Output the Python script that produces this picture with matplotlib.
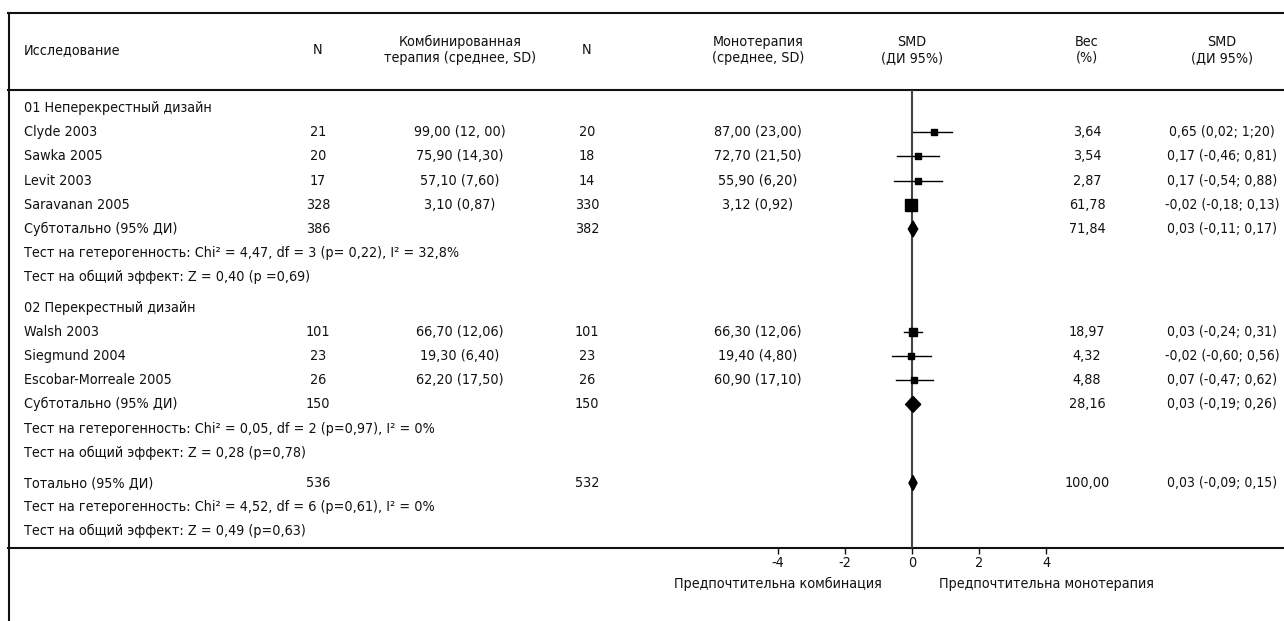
import matplotlib
matplotlib.use("Agg")
import matplotlib.pyplot as plt
from matplotlib import font_manager
from matplotlib.patches import Polygon

# --- data
studies = ['Clyde 2003', 'Sawka 2005', 'Levit 2003', 'Saravanan 2005',
           'Walsh 2003', 'Siegmund 2004', 'Escobar-Morreale 2005']
group = [1, 1, 1, 1, 2, 2, 2]
n_comb = [21, 20, 17, 328, 101, 23, 26]
comb_txt = ['99,00 (12, 00)', '75,90 (14,30)', '57,10 (7,60)', '3,10 (0,87)',
            '66,70 (12,06)', '19,30 (6,40)', '62,20 (17,50)']
n_mono = [20, 18, 14, 330, 101, 23, 26]
mono_txt = ['87,00 (23,00)', '72,70 (21,50)', '55,90 (6,20)', '3,12 (0,92)',
            '66,30 (12,06)', '19,40 (4,80)', '60,90 (17,10)']
smd = [0.65, 0.17, 0.17, -0.02, 0.03, -0.02, 0.07]
ci_lo = [0.02, -0.46, -0.54, -0.18, -0.24, -0.60, -0.47]
ci_hi = [1.20, 0.81, 0.88, 0.13, 0.31, 0.56, 0.62]
weight = [3.64, 3.54, 2.87, 61.78, 18.97, 4.32, 4.88]
weight_txt = ['3,64', '3,54', '2,87', '61,78', '18,97', '4,32', '4,88']
smd_txt = ['0,65 (0,02; 1;20)', '0,17 (-0,46; 0,81)', '0,17 (-0,54; 0,88)',
           '-0,02 (-0,18; 0,13)', '0,03 (-0,24; 0,31)', '-0,02 (-0,60; 0,56)',
           '0,07 (-0,47; 0,62)']

group_titles = ['01 Неперекрестный дизайн', '02 Перекрестный дизайн']
sub_n_comb = [386, 150]
sub_n_mono = [382, 150]
sub_smd = [0.03, 0.03]
sub_lo = [-0.11, -0.19]
sub_hi = [0.17, 0.26]
sub_weight_txt = ['71,84', '28,16']
sub_smd_txt = ['0,03 (-0,11; 0,17)', '0,03 (-0,19; 0,26)']
sub_tests = [['Тест на гетерогенность: Chi² = 4,47, df = 3 (p= 0,22), I² = 32,8%',
              'Тест на общий эффект: Z = 0,40 (p =0,69)'],
             ['Тест на гетерогенность: Chi² = 0,05, df = 2 (p=0,97), I² = 0%',
              'Тест на общий эффект: Z = 0,28 (p=0,78)']]

tot_n_comb = 536
tot_n_mono = 532
tot_smd, tot_lo, tot_hi = 0.03, -0.09, 0.15
tot_weight_txt = '100,00'
tot_smd_txt = '0,03 (-0,09; 0,15)'
tot_tests = ['Тест на гетерогенность: Chi² = 4,52, df = 6 (p=0,61), I² = 0%',
             'Тест на общий эффект: Z = 0,49 (p=0,63)']

headers = ['Исследование', 'N', 'Комбинированная\nтерапия (среднее, SD)', 'N',
           'Монотерапия\n(среднее, SD)', 'SMD\n(ДИ 95%)', 'Вес\n(%)', 'SMD\n(ДИ 95%)']
x_ticks = [-4, -2, 0, 2, 4]
favours = ['Предпочтительна комбинация', 'Предпочтительна монотерапия']

# --- font: a narrow face if there is one
names = {f.name for f in font_manager.fontManager.ttflist}
if 'Liberation Sans Narrow' in names:
    FONT = dict(family='Liberation Sans Narrow', size=12)
else:
    FONT = dict(family='DejaVu Sans', stretch='condensed', size=10.3)
plt.rcParams['font.family'] = FONT['family']
INK = '#111111'

W, H = 1284, 621
fig = plt.figure(figsize=(W / 100, H / 100), dpi=100)
ax = fig.add_axes([0, 0, 1, 1])
ax.set_xlim(0, W)
ax.set_ylim(H, 0)
ax.axis('off')

# column anchors (pixels)
x_name, x_n1, x_comb, x_n2, x_mono, x_zero, x_w, x_ci = 24, 318, 460, 587, 758, 912, 1087, 1222
y_top, y_head, y_axis = 13, 90, 548
px_per_unit = 33.6

# frame
lw = 1.5
ax.plot([8, W], [y_top, y_top], color=INK, lw=lw)
ax.plot([8, W], [y_head, y_head], color=INK, lw=lw)
ax.plot([8, W], [y_axis, y_axis], color=INK, lw=lw)
ax.plot([8.5, 8.5], [y_top, H], color=INK, lw=lw)

def txt(x, y, s, ha='center', size=None):
    f = dict(FONT)
    if size:
        f['size'] = size
    ax.text(x, y, s, ha=ha, va='center', color=INK, linespacing=1.15, **f)

for x, h in zip([x_name, x_n1, x_comb, x_n2, x_mono, x_zero, x_w, x_ci], headers):
    txt(x, 50, h, ha='left' if x == x_name else 'center')

# forest axes sharing the pixel row coordinates
fx_l, fx_r = 700, 1110
fx = fig.add_axes([fx_l / W, (H - y_axis) / H, (fx_r - fx_l) / W, (y_axis - y_head) / H])
fx.set_xlim((fx_l - x_zero) / px_per_unit, (fx_r - x_zero) / px_per_unit)
fx.set_ylim(y_axis, y_head)
fx.patch.set_alpha(0)
for sp in fx.spines.values():
    sp.set_visible(False)
fx.set_yticks([])
fx.set_xticks(x_ticks)
fx.set_xticklabels([str(t) for t in x_ticks], color=INK, **FONT)
fx.tick_params(axis='x', direction='out', length=4, width=1, color=INK, pad=2)
fx.axvline(0, color='#444444', lw=1.5, zorder=1)

def diamond(y, est, lo, hi, half=8):
    fx.add_patch(Polygon([[lo, y], [est, y - half], [hi, y], [est, y + half]],
                         closed=True, color='black', zorder=3))

def square(y, est, lo, hi, w):
    fx.plot([lo, hi], [y, y], color='black', lw=1, zorder=2)
    side = 6 + 0.1 * w
    fx.plot([est], [y], marker='s', ms=side * 0.72, color='black', zorder=3)

CI_SIZE = FONT['size'] - 0.3

# rows
step, gap = 24.2, 6
y = 108
for g in (1, 2):
    gi = g - 1
    txt(x_name, y, group_titles[gi], ha='left')
    y += step
    for i in [k for k in range(len(studies)) if group[k] == g]:
        txt(x_name, y, studies[i], ha='left')
        txt(x_n1, y, str(n_comb[i]))
        txt(x_comb, y, comb_txt[i])
        txt(x_n2, y, str(n_mono[i]))
        txt(x_mono, y, mono_txt[i])
        txt(x_w, y, weight_txt[i])
        txt(x_ci, y, smd_txt[i], size=CI_SIZE)
        square(y, smd[i], ci_lo[i], ci_hi[i], weight[i])
        y += step
    txt(x_name, y, 'Субтотально (95% ДИ)', ha='left')
    txt(x_n1, y, str(sub_n_comb[gi]))
    txt(x_n2, y, str(sub_n_mono[gi]))
    txt(x_w, y, sub_weight_txt[gi])
    txt(x_ci, y, sub_smd_txt[gi], size=CI_SIZE)
    diamond(y, sub_smd[gi], sub_lo[gi], sub_hi[gi])
    y += step
    for t in sub_tests[gi]:
        txt(x_name, y, t, ha='left')
        y += step
    y += gap

txt(x_name, y, 'Тотально (95% ДИ)', ha='left')
txt(x_n1, y, str(tot_n_comb))
txt(x_n2, y, str(tot_n_mono))
txt(x_w, y, tot_weight_txt)
txt(x_ci, y, tot_smd_txt, size=CI_SIZE)
diamond(y, tot_smd, tot_lo, tot_hi, half=7.5)
y += step
for t in tot_tests:
    txt(x_name, y, t, ha='left')
    y += step

# favours labels under the axis
fx.text(-4, 584, favours[0], ha='center', va='center', color=INK, clip_on=False, **FONT)
fx.text(4, 584, favours[1], ha='center', va='center', color=INK, clip_on=False, **FONT)

fig.savefig('out.png', dpi=100)
